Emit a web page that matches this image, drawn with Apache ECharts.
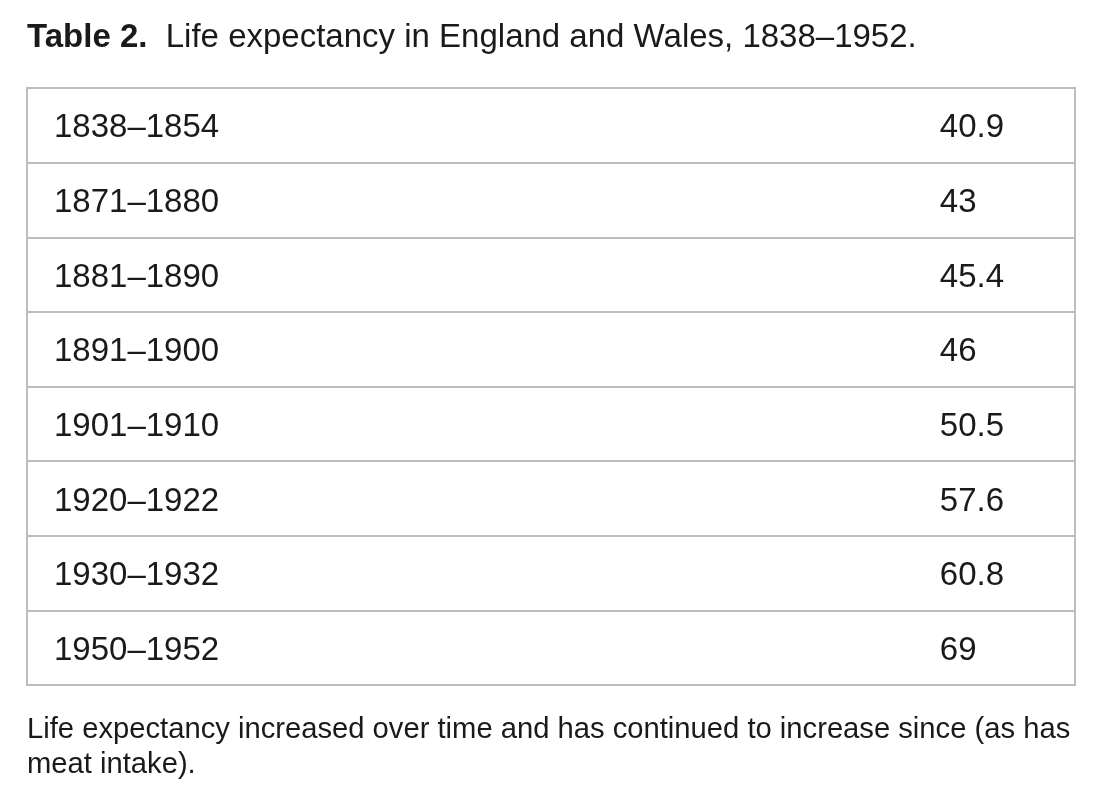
<!DOCTYPE html>
<html>
<head>
<meta charset="utf-8">
<script src="https://cdn.jsdelivr.net/npm/echarts@6/dist/echarts.min.js"></script>
<style>
html,body{margin:0;padding:0;background:#fff;}
#chart{width:1102px;height:805px;}
</style>
</head>
<body>
<div id="chart"></div>
<script>
const periods = ['1838–1854','1871–1880','1881–1890','1891–1900','1901–1910','1920–1922','1930–1932','1950–1952'];
const lifeExpectancy = [40.9, 43, 45.4, 46, 50.5, 57.6, 60.8, 69];
const titleBold = 'Table 2.';
const titleText = 'Life expectancy in England and Wales, 1838–1952.';
const noteLines = ['Life expectancy increased over time and has continued to increase since (as has', 'meat intake).'];

const FONT = '"Liberation Sans", Arial, Helvetica, sans-serif';
const TEXT = '#1a1a1a';
const LINE = '#bdbdbd';
const VALUE_COL = 0.871; // fraction of table width where value column starts

const chart = echarts.init(document.getElementById('chart'), null, {renderer: 'canvas'});
chart.setOption({
  backgroundColor: '#fff',
  animation: false,
  title: [
    {
      text: '{b|' + titleBold + '}  ' + titleText,
      left: 27, top: 18, padding: 0,
      textStyle: {
        fontFamily: FONT, fontSize: 33, color: TEXT, fontWeight: 'normal', lineHeight: 40,
        rich: { b: { fontFamily: FONT, fontSize: 33, color: TEXT, fontWeight: 'bold', lineHeight: 40 } }
      }
    },
    {
      text: noteLines.join('\n'),
      left: 27, top: 712, padding: 0,
      textStyle: { fontFamily: FONT, fontSize: 29.2, color: TEXT, fontWeight: 'normal', lineHeight: 35 }
    }
  ],
  grid: {
    left: 27, top: 88, width: 1048, height: 597,
    show: true, borderColor: LINE, borderWidth: 2, backgroundColor: 'transparent',
    containLabel: false
  },
  xAxis: { type: 'value', min: 0, max: 1, show: false },
  yAxis: {
    type: 'category', data: periods, inverse: true,
    axisLine: { show: false }, axisTick: { show: false },
    splitLine: { show: true, lineStyle: { color: LINE, width: 2 } },
    axisLabel: {
      inside: true, margin: 27, align: 'left', verticalAlign: 'middle',
      formatter: v => '{a|' + v + '}',
      rich: { a: { fontFamily: FONT, fontSize: 33, color: TEXT, padding: [6, 0, 0, 0] } }
    }
  },
  series: [{
    type: 'scatter',
    symbolSize: 0,
    itemStyle: { opacity: 1 },
    data: lifeExpectancy.map((v, i) => [VALUE_COL, periods[i], v]),
    encode: { x: 0, y: 1 },
    label: {
      show: true, position: 'right', distance: 0, opacity: 1, offset: [0, 3],
      formatter: p => String(p.value[2]),
      fontFamily: FONT, fontSize: 33, color: TEXT
    },
    silent: true
  }]
});
</script>
</body>
</html>
